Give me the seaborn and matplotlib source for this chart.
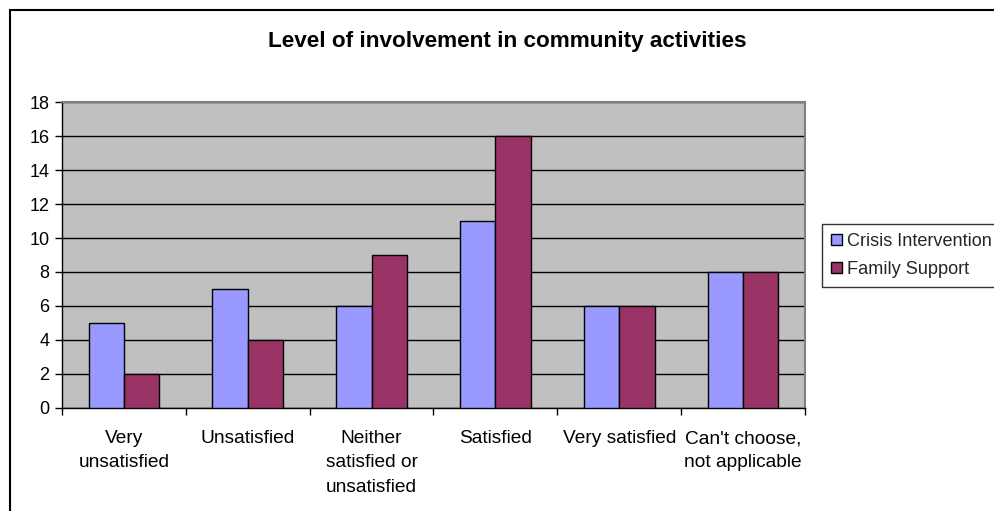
import matplotlib
matplotlib.use("Agg")
import matplotlib.pyplot as plt
import seaborn as sns
import pandas as pd
from matplotlib.ticker import FixedLocator
from matplotlib.patches import Rectangle, Patch

categories = ["Very\nunsatisfied", "Unsatisfied", "Neither\nsatisfied or\nunsatisfied",
              "Satisfied", "Very satisfied", "Can't choose,\nnot applicable"]
crisis = [5, 7, 6, 11, 6, 8]
family = [2, 4, 9, 16, 6, 8]
series_names = ["Crisis Intervention", "Family Support"]
title = "Level of involvement in community activities"

df = pd.DataFrame({
    "cat": categories * 2,
    "val": crisis + family,
    "series": [series_names[0]] * 6 + [series_names[1]] * 6,
})

sns.set_theme(style="white")
plt.rcParams['font.family'] = ['Liberation Sans', 'DejaVu Sans']

fig = plt.figure(figsize=(9.95, 5.11), dpi=100)
# outer chart border
fig.patches.append(Rectangle((10/995, -0.1), 1.2, 1 - 10/511 + 0.1, transform=fig.transFigure,
                             fill=False, edgecolor="black", linewidth=1.5, zorder=0))
ax = fig.add_axes([62/995, 1 - 408/511, (805-62)/995, (408-102)/511])
ax.set_facecolor("#C0C0C0")

sns.barplot(data=df, x="cat", y="val", hue="series", order=categories,
            hue_order=series_names, palette=["#9999FF", "#993366"], saturation=1,
            width=0.57, edgecolor="black", linewidth=1.0, ax=ax, legend=False, zorder=3)

ax.set_xlim(-0.5, 5.5)
ax.set_ylim(0, 18)
ax.set_yticks(range(0, 19, 2))
ax.yaxis.grid(True, color="black", linewidth=1.0, zorder=1)
ax.set_axisbelow(True)
ax.tick_params(axis="y", which="major", left=True, length=5, width=1, color="black",
               labelsize=13, pad=4, labelcolor="black")
ax.xaxis.set_minor_locator(FixedLocator([i - 0.5 for i in range(7)]))
ax.tick_params(axis="x", which="major", bottom=False, length=0, labelsize=13.8, pad=16,
               labelcolor="black")
ax.tick_params(axis="x", which="minor", bottom=True, length=5, width=1, color="black")
ax.set_xticks(range(6))
ax.set_xticklabels(categories, linespacing=1.55, va="top")
ax.set_xlabel("")
ax.set_ylabel("")

for s in ["top", "right"]:
    ax.spines[s].set_color("#808080")
    ax.spines[s].set_linewidth(1.5)
for s in ["left", "bottom"]:
    ax.spines[s].set_color("black")
    ax.spines[s].set_linewidth(1.0)

fig.text(507/995, 1 - 42/511, title, ha="center", va="center",
         fontsize=16.2, fontweight="bold", color="black")

# legend
handles = [Patch(facecolor="#9999FF", edgecolor="black", linewidth=1),
           Patch(facecolor="#993366", edgecolor="black", linewidth=1)]
leg = fig.legend(handles, series_names, loc="upper left",
                 bbox_to_anchor=(822/995, 1 - 224/511), frameon=True, fancybox=False,
                 edgecolor="black", fontsize=13.1, handlelength=0.6, handleheight=0.6,
                 handletextpad=0.3, borderpad=0.5, labelspacing=0.6, borderaxespad=0)
leg.get_frame().set_linewidth(1.0)

fig.savefig("out.png", dpi=100)
